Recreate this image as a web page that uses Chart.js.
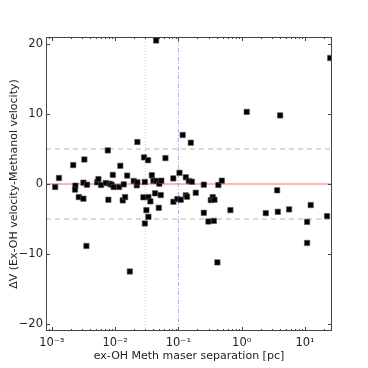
<!DOCTYPE html>
<html><head><meta charset="utf-8">
<script src="https://cdn.jsdelivr.net/npm/chart.js@4"></script>
<style>html,body{margin:0;padding:0;background:#fff}#wrap{width:368px;height:368px}</style>
</head><body><div id="wrap"><canvas id="c" width="368" height="368"></canvas></div>
<script>
// Data
const separationPc = [
  0.00113,0.0013,0.00218,0.00236,0.00233,0.00267,0.00316,0.00316,0.0036,0.00352,
  0.00327,0.0052,0.00545,0.006,0.00783,0.00713,0.00824,0.0088,0.00767,0.0092,
  0.0095,0.01156,0.0121,0.0132,0.0144,0.0137,0.0155,0.0171,0.0197,0.022,
  0.0225,0.0225,0.028,0.0287,0.0332,0.0295,0.0312,0.0295,0.0336,0.0336,
  0.0361,0.038,0.0403,0.0428,0.0449,0.049,0.050,0.0527,0.0537,0.0624,
  0.0445,0.0834,0.083,0.0964,0.104,0.109,0.131,0.131,0.137,0.117,
  0.157,0.146,0.163,0.188,0.252,0.252,0.298,0.325,0.349,0.371,
  0.363,0.413,0.428,0.485,0.663,1.2,2.4,3.63,3.72,4.05,
  5.61,10.8,10.8,12.3,22.3,25
];
const deltaV = [
  -0.43,0.86,2.7,-0.24,-0.8,-1.87,-2.1,0.19,-0.1,-8.85,
  3.5,0.24,0.7,-0.14,-2.25,0.14,0.04,-0.1,4.8,1.3,
  -0.43,-0.43,2.6,-2.34,-1.87,-0.05,1.2,-12.5,0.43,-0.19,
  0.24,6.0,-1.9,3.8,3.4,0.29,-3.73,-5.64,-4.69,-1.87,
  -2.48,1.25,0.47,-1.33,0.43,-3.4,0.04,-1.58,0.47,3.7,
  20.5,-2.54,0.8,-2.15,1.6,-2.25,-1.62,0.96,-1.82,7.0,
  5.9,0.43,0.33,-1.25,-0.1,-4.11,-5.36,-2.3,-1.87,-2.25,
  -5.27,-11.2,-0.14,0.47,-3.73,10.3,-4.16,-0.9,-3.97,9.8,
  -3.63,-5.41,-8.42,-3.01,-4.59,18.0
];
const xTickValues = [1e-3,1e-2,1e-1,1,10];
const xTickLabels = ['10\u207B\u00B3','10\u207B\u00B2','10\u207B\u00B9','10\u2070','10\u00B9'];
const yTickValues = [-20,-10,0,10,20];
const xRange = [8.1e-4, 26.7];
const yRange = [-21, 21];
const zeroLine = 0;
const dashedLevels = [5, -5];
const dottedSeparation = 0.03;
const dashDotSeparation = 0.1;

const points = separationPc.map((x,i)=>({x:x,y:deltaV[i]}));
const hLine = v => [{x:xRange[0],y:v},{x:xRange[1],y:v}];
const vLine = v => [{x:v,y:yRange[0]},{x:v,y:yRange[1]}];

const frameTicks = {
  id:'frameTicks',
  afterDraw(chart){
    const ctx = chart.ctx, a = chart.chartArea, xs = chart.scales.x, ys = chart.scales.y;
    ctx.save();
    ctx.strokeStyle = '#444'; ctx.lineWidth = 1;
    ctx.strokeRect(a.left+0.5, a.top+0.5, a.right-a.left-1, a.bottom-a.top-1);
    ctx.beginPath();
    xTickValues.forEach(v=>{
      const px = Math.round(xs.getPixelForValue(v))+0.5;
      ctx.moveTo(px,a.bottom); ctx.lineTo(px,a.bottom-4);
      ctx.moveTo(px,a.top); ctx.lineTo(px,a.top+4);
    });
    for(let e=-4;e<=1;e++){
      for(let m=2;m<=9;m++){
        const v = m*Math.pow(10,e);
        if(v<xRange[0]||v>xRange[1]) continue;
        const px = Math.round(xs.getPixelForValue(v))+0.5;
        ctx.moveTo(px,a.bottom); ctx.lineTo(px,a.bottom-2);
        ctx.moveTo(px,a.top); ctx.lineTo(px,a.top+2);
      }
    }
    yTickValues.forEach(v=>{
      const py = Math.round(ys.getPixelForValue(v))+0.5;
      ctx.moveTo(a.left,py); ctx.lineTo(a.left+4,py);
      ctx.moveTo(a.right,py); ctx.lineTo(a.right-4,py);
    });
    ctx.stroke();
    ctx.restore();
  }
};

new Chart(document.getElementById('c'), {
  type:'scatter',
  data:{datasets:[
    {label:'points', data:points, pointStyle:'rect', radius:3.8, backgroundColor:'#000', borderColor:'#555', borderWidth:0.6, order:0},
    {type:'line', data:hLine(zeroLine), borderColor:'rgba(255,60,60,0.5)', borderWidth:1.6, pointRadius:0, order:5},
    {type:'line', data:hLine(dashedLevels[0]), borderColor:'rgba(40,170,40,0.55)', borderWidth:1.2, borderDash:[5,4], pointRadius:0, order:5},
    {type:'line', data:hLine(dashedLevels[1]), borderColor:'rgba(40,170,40,0.55)', borderWidth:1.2, borderDash:[5,4], pointRadius:0, order:5},
    {type:'line', data:vLine(dottedSeparation), borderColor:'rgba(110,110,255,0.3)', borderWidth:1.3, borderDash:[1,2], pointRadius:0, order:5},
    {type:'line', data:vLine(dashDotSeparation), borderColor:'rgba(60,60,255,0.5)', borderWidth:0.9, borderDash:[4,2,1,2], pointRadius:0, order:5}
  ]},
  options:{
    responsive:false, animation:false, devicePixelRatio:1,
    layout:{padding:{left:0,top:37,right:36,bottom:0}},
    plugins:{legend:{display:false}, tooltip:{enabled:false}},
    scales:{
      x:{type:'logarithmic', min:xRange[0], max:xRange[1],
        afterBuildTicks:s=>{s.ticks = xTickValues.map(v=>({value:v}));},
        afterFit:s=>{s.height=37;},
        grid:{display:false, drawTicks:false},
        border:{display:false},
        ticks:{padding:5, color:'#222', font:{family:'DejaVu Sans', size:11.5}, maxRotation:0, autoSkip:false,
          callback:(v)=>{const i=xTickValues.findIndex(t=>Math.abs(Math.log10(t)-Math.log10(v))<1e-6); return i>=0?xTickLabels[i]:'';}},
        title:{display:true, text:'ex-OH Meth maser separation [pc]', color:'#222', font:{family:'DejaVu Sans', size:11}, padding:{top:5,bottom:5}}
      },
      y:{min:yRange[0], max:yRange[1],
        afterBuildTicks:s=>{s.ticks = yTickValues.map(v=>({value:v}));},
        afterFit:s=>{s.width=46;},
        grid:{display:false, drawTicks:false},
        border:{display:false},
        ticks:{padding:3, color:'#222', font:{family:'DejaVu Sans', size:11.5},
          callback:v=> (v<0?'\u2212'+Math.abs(v):String(v))},
        title:{display:true, text:'\u0394V (Ex-OH velocity-Methanol velocity)', color:'#222', font:{family:'DejaVu Sans', size:11}, padding:{top:7.5,bottom:7.5}}
      }
    }
  },
  plugins:[frameTicks]
});
</script>
</body></html>
